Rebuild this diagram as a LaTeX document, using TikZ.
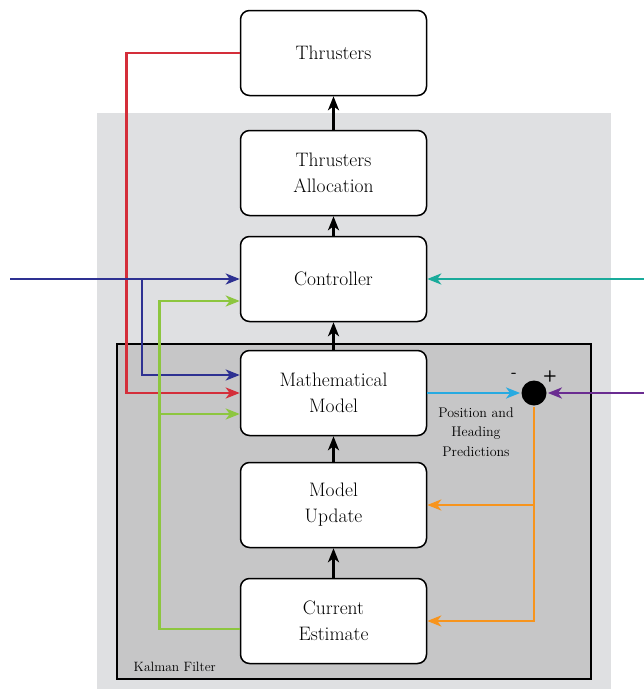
\documentclass[tikz,border=0pt]{standalone}
\usepackage{tikz}
\usetikzlibrary{arrows.meta}
\definecolor{bgOuter}{HTML}{DFE0E2}
\definecolor{bgKalman}{HTML}{C6C6C7}
\definecolor{lnRed}{HTML}{D42E3A}
\definecolor{lnBlue}{HTML}{2E3192}
\definecolor{lnGreen}{HTML}{8DC63F}
\definecolor{lnTeal}{HTML}{1AAB9B}
\definecolor{lnCyan}{HTML}{27AAE1}
\definecolor{lnPurple}{HTML}{6A2C91}
\definecolor{lnOrange}{HTML}{F7941D}

\begin{document}
\begin{tikzpicture}[x=1pt, y=-1pt, line width=2.8pt, >={Stealth[length=14pt,width=11pt,inset=4pt]},
    block/.style={draw, fill=white, rounded corners=9pt, line width=1.5pt,
        minimum width=186pt, minimum height=85pt, align=center,
        font=\fontsize{19.5}{26}\selectfont}]
    \useasboundingbox (0,0) rectangle (644,689);
    % Hintergrund.
    \fill[bgOuter] (97,113) rectangle (611,689);
    \draw[fill=bgKalman, line width=1.3pt] (117,344) rectangle (591,679);
    \node[anchor=base west, font=\fontsize{13.5}{16}\selectfont] (kfLabel) at (129,671) {Kalman Filter};

    % Bloecke.
    \node[block] (thr)   at (333.5,53)  {Thrusters};
    \node[block] (alloc) at (333.5,173) {Thrusters\\Allocation};
    \node[block] (ctrl)  at (333.5,279) {Controller};
    \node[block] (math)  at (333.5,393) {Mathematical\\Model};
    \node[block] (upd)   at (333.5,505) {Model\\Update};
    \node[block] (est)   at (333.5,621) {Current\\Estimate};

    \node[circle, fill=black, minimum size=25pt, inner sep=0pt] (sum) at (534,393) {};
    \node[font=\sffamily\bfseries\fontsize{16}{18}\selectfont] (minus) at (514,375) {-};
    \node[font=\sffamily\bfseries\fontsize{16}{18}\selectfont] (plus)  at (550,376) {+};

    \node[align=center, font=\fontsize{14}{19.5}\selectfont] (predLabel) at (476,432)
        {Position and\\Heading\\Predictions};

    % Pfeile.
    \foreach \a/\b in {est/upd, upd/math, math/ctrl, ctrl/alloc, alloc/thr}
    {
        \draw[->, line width=3pt] (\a.north) -- (\b.south);
    }

    \coordinate (ctrlIn) at (10,279);
    \coordinate (refIn)  at (644,279);
    \coordinate (measIn) at (644,393);
    \coordinate (blueSplit)  at (142,279);
    \coordinate (greenSplit) at (160,414);

    \draw[->, color=lnRed] (thr.west) -- ++(-113,0) |- (math.west);
    \draw[->, color=lnBlue] (ctrlIn) -- (ctrl.west);
    \draw[->, color=lnBlue] (blueSplit) |- ([yshift=18pt]math.west);
    \draw[->, color=lnGreen] ([yshift=-8pt]est.west) -- ++(-80,0) |- ([yshift=-22pt]ctrl.west);
    \draw[->, color=lnGreen] (greenSplit) -- ([yshift=-21pt]math.west);
    \draw[->, color=lnTeal] (refIn) -- (ctrl.east);
    \draw[->, color=lnCyan] (math.east) -- (sum.west);
    \draw[->, color=lnPurple] (measIn) -- (sum.east);
    \draw[->, color=lnOrange] (sum.south) |- (est.east);
    \draw[->, color=lnOrange] (sum.south) |- (upd.east);
\end{tikzpicture}
\end{document}
